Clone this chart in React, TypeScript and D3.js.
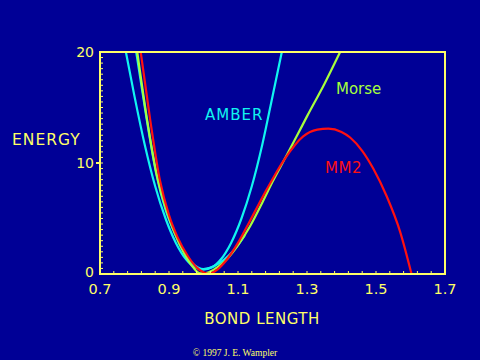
import React from "react";
import * as d3 from "d3";

// Bond length and energy values
const amberR = [0.775, 0.80, 0.83, 0.86, 0.89, 0.92, 0.95, 0.975, 1.0, 1.025, 1.05, 1.08, 1.11, 1.14, 1.17, 1.20, 1.227];
const amberE = [20, 16.0, 11.6, 7.9, 5.0, 2.8, 1.3, 0.6, 0.4, 0.6, 1.3, 2.8, 5.0, 7.9, 11.6, 16.0, 20];

const amber2R = [0.805, 0.835, 0.864, 0.89, 0.915, 0.945, 0.97, 1.0, 1.03, 1.06, 1.09, 1.12];
const amber2E = [20, 14.0, 8.9, 5.8, 3.8, 1.9, 0.9, 0.45, 0.7, 1.3, 2.2, 3.5];

const morseR = [0.808, 0.836, 0.864, 0.89, 0.915, 0.945, 0.97, 0.99, 1.01, 1.04, 1.07, 1.10, 1.135, 1.17, 1.20, 1.236, 1.27, 1.30, 1.35, 1.396];
const morseE = [20, 14.0, 9.0, 6.0, 3.8, 1.8, 0.6, 0.05, 0.1, 0.6, 1.4, 2.6, 4.3, 6.4, 8.3, 10.4, 12.4, 14.2, 17.1, 20];

const mm2R = [0.818, 0.845, 0.874, 0.90, 0.925, 0.955, 0.98, 1.0, 1.015, 1.04, 1.07, 1.10, 1.135, 1.183, 1.236, 1.289, 1.33, 1.362, 1.40, 1.425, 1.46, 1.492, 1.531, 1.57, 1.603];
const mm2E = [20, 14.0, 8.4, 5.3, 3.3, 1.6, 0.6, 0.15, 0.0, 0.4, 1.4, 2.8, 4.8, 7.6, 10.4, 12.4, 13.0, 13.1, 12.8, 12.3, 11.1, 9.5, 7.0, 3.8, 0.0];

const xTickLabels = ["0.7", "0.9", "1.1", "1.3", "1.5", "1.7"];
const yTickLabels = ["0", "10", "20"];

const BG = "#000096";
const YEL = "#ffff66";
const CYAN = "#11f5f0";
const GREEN = "#a6ff3c";
const RED = "#ff1010";

export default function App() {
  const x = d3.scaleLinear().domain([0.7, 1.7]).range([100, 445]);
  const y = d3.scaleLinear().domain([0, 20]).range([274, 52]);
  const line = d3
    .line<[number, number]>()
    .x((d) => x(d[0]))
    .y((d) => y(d[1]))
    .curve(d3.curveMonotoneX);
  const pts = (rs: number[], es: number[]) => rs.map((r, i) => [r, es[i]] as [number, number]);

  const xMinor = d3.range(0, 26).map((i) => 0.7 + i * 0.04);
  const yMinor = d3.range(1, 40).map((i) => i * 0.5);
  const font = "'DejaVu Sans', sans-serif";

  return (
    <svg width={480} height={360} style={{ position: "absolute", left: 0, top: 0 }}>
      <rect x={0} y={0} width={480} height={360} fill={BG} />
      <defs>
        <clipPath id="plot">
          <rect x={100} y={51} width={345} height={224} />
        </clipPath>
      </defs>
      <g clipPath="url(#plot)" fill="none" strokeWidth={2.2} strokeLinejoin="round">
        <path d={line(pts(amber2R, amber2E)) || ""} stroke={CYAN} />
        <path d={line(pts(amberR, amberE)) || ""} stroke={CYAN} />
        <path d={line(pts(morseR, morseE)) || ""} stroke={GREEN} />
        <path d={line(pts(mm2R, mm2E)) || ""} stroke={RED} />
      </g>
      {/* frame */}
      <g stroke={YEL} strokeWidth={2} fill="none">
        <rect x={x(0.7)} y={y(20)} width={x(1.7) - x(0.7)} height={y(0) - y(20)} />
        {xMinor.map((v, i) => (
          <line key={"xt" + i} x1={x(v)} x2={x(v)} y1={y(0)} y2={y(0) - 3} strokeWidth={1} />
        ))}
        {yMinor.map((v, i) => (
          <line key={"yt" + i} x1={x(0.7)} x2={x(0.7) + 3} y1={y(v)} y2={y(v)} strokeWidth={1} />
        ))}
        <line x1={x(0.7) - 4} x2={x(0.7)} y1={y(10)} y2={y(10)} />
      </g>
      <g fill={YEL} fontFamily={font}>
        {xTickLabels.map((t) => (
          <text key={t} x={x(+t)} y={294} fontSize={14.5} textAnchor="middle">
            {t}
          </text>
        ))}
        {yTickLabels.map((t) => (
          <text key={t} x={94} y={+t === 0 ? 277 : y(+t) + 5} fontSize={14} textAnchor="end">
            {t}
          </text>
        ))}
        <text x={12} y={145} fontSize={15.5} letterSpacing={1}>
          ENERGY
        </text>
        <text x={262} y={324} fontSize={15} textAnchor="middle" letterSpacing={0.5}>
          BOND LENGTH
        </text>
        <text x={235} y={356} fontSize={9.5} textAnchor="middle" fontFamily="'Liberation Serif', serif">
          © 1997 J. E. Wampler
        </text>
      </g>
      <text x={205} y={120} fill={CYAN} fontSize={15} fontFamily={font} letterSpacing={1}>
        AMBER
      </text>
      <text x={336} y={94} fill={GREEN} fontSize={15} fontFamily={font}>
        Morse
      </text>
      <text x={325} y={173} fill={RED} fontSize={15} fontFamily={font} letterSpacing={0.5}>
        MM2
      </text>
    </svg>
  );
}
